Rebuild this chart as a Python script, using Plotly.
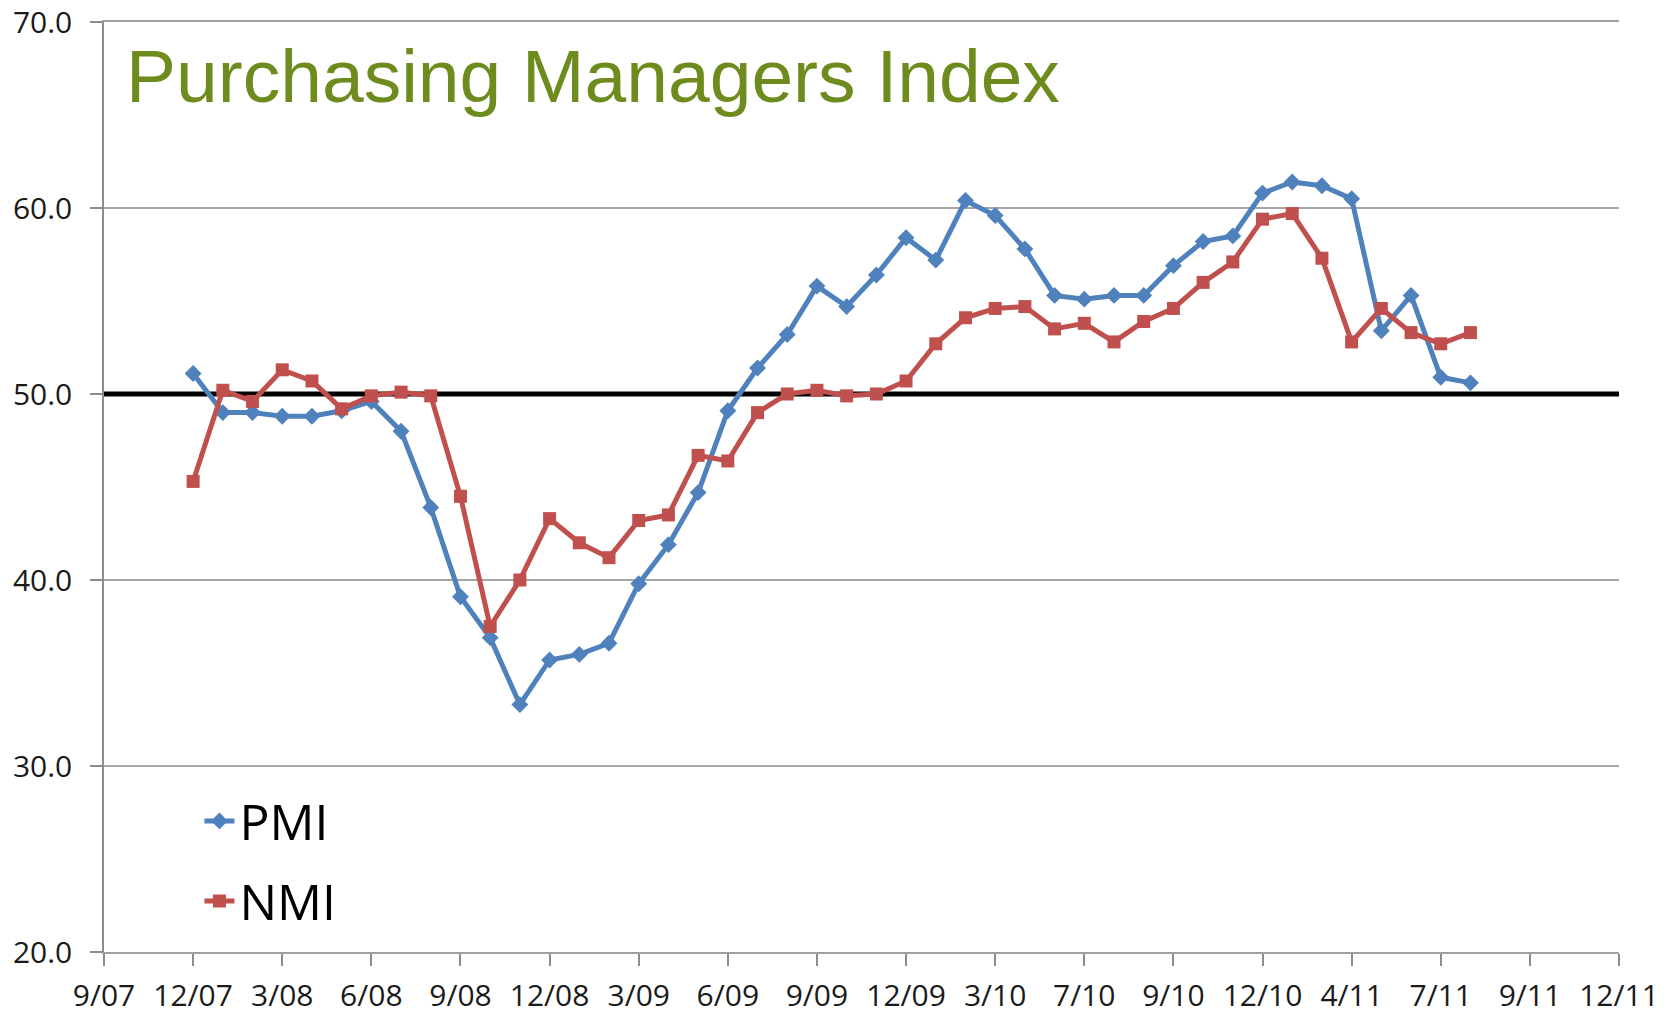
import plotly.graph_objects as go

tick_labels = ["9/07", "12/07", "3/08", "6/08", "9/08", "12/08", "3/09", "6/09", "9/09",
               "12/09", "3/10", "7/10", "9/10", "12/10", "4/11", "7/11", "9/11", "12/11"]

# category positions (month slots on the category axis, 0 = first tick "9/07")
positions = list(range(3, 47))

pmi = [51.1, 49.0, 49.0, 48.8, 48.8, 49.1, 49.6, 48.0, 43.9, 39.1, 36.9, 33.3, 35.7, 36.0,
       36.6, 39.8, 41.9, 44.7, 49.1, 51.4, 53.2, 55.8, 54.7, 56.4, 58.4, 57.2, 60.4, 59.6,
       57.8, 55.3, 55.1, 55.3, 55.3, 56.9, 58.2, 58.5, 60.8, 61.4, 61.2, 60.5, 53.4, 55.3,
       50.9, 50.6]

nmi = [45.3, 50.2, 49.6, 51.3, 50.7, 49.2, 49.9, 50.1, 49.9, 44.5, 37.5, 40.0, 43.3, 42.0,
       41.2, 43.2, 43.5, 46.7, 46.4, 49.0, 50.0, 50.2, 49.9, 50.0, 50.7, 52.7, 54.1, 54.6,
       54.7, 53.5, 53.8, 52.8, 53.9, 54.6, 56.0, 57.1, 59.4, 59.7, 57.3, 52.8, 54.6, 53.3,
       52.7, 53.3]

threshold = 50.0
tick_step = 3
n_slots = (len(tick_labels) - 1) * tick_step

fig = go.Figure()

# 50-line drawn first so the series sit on top of it
fig.add_trace(go.Scatter(
    x=[0, n_slots], y=[threshold, threshold], mode="lines", showlegend=False,
    hoverinfo="skip", line=dict(color="black", width=5),
))
fig.add_trace(go.Scatter(
    x=positions, y=pmi, name="PMI", mode="lines+markers", legendgroup="a",
    line=dict(color="#4F81BD", width=5),
    marker=dict(symbol="diamond", size=13, color="#4F81BD"),
))
fig.add_trace(go.Scatter(
    x=positions, y=nmi, name="NMI", mode="lines+markers", legendgroup="b",
    line=dict(color="#C0504D", width=5),
    marker=dict(symbol="square", size=13, color="#C0504D"),
))

fig.add_annotation(
    text="Purchasing Managers Index", xref="paper", yref="paper", x=0.013, y=0.942,
    xanchor="left", yanchor="middle", showarrow=False,
    font=dict(family="Liberation Sans, Arial", size=75, color="#6E8B1D"),
)

tick_font = dict(family="Open Sans", size=30, color="#1a1a1a")

fig.update_layout(
    width=1667, height=1006,
    margin=dict(l=96, r=56, t=14, b=62, autoexpand=False),
    plot_bgcolor="white", paper_bgcolor="white",
    showlegend=True,
    legend=dict(
        x=0.063, y=0.013, xanchor="left", yanchor="bottom",
        font=dict(family="Open Sans", size=50, color="black"),
        bgcolor="rgba(0,0,0,0)", tracegroupgap=12, traceorder="grouped",
    ),
    xaxis=dict(
        range=[0, n_slots], automargin=False, ticklabeloverflow="allow",
        tickmode="array",
        tickvals=[i * tick_step for i in range(len(tick_labels))],
        ticktext=tick_labels,
        showgrid=False, zeroline=False,
        showline=True, mirror=True, linecolor="#a0a0a0", linewidth=1.5,
        ticks="outside", ticklen=12, tickcolor="#8c8c8c", tickwidth=1.5,
        ticklabelstandoff=4,
        tickfont=tick_font,
    ),
    yaxis=dict(
        range=[20, 70], dtick=10, tick0=20, tickformat=".1f", automargin=False,
        ticklabeloverflow="allow",
        showgrid=True, gridcolor="#a6a6a6", gridwidth=1.5,
        zeroline=False,
        showline=True, linecolor="#8c8c8c", linewidth=1.5,
        ticks="outside", ticklen=12, tickcolor="#8c8c8c", tickwidth=1.5,
        ticklabelstandoff=12,
        tickfont=tick_font,
    ),
)

fig.write_html("out.html")
